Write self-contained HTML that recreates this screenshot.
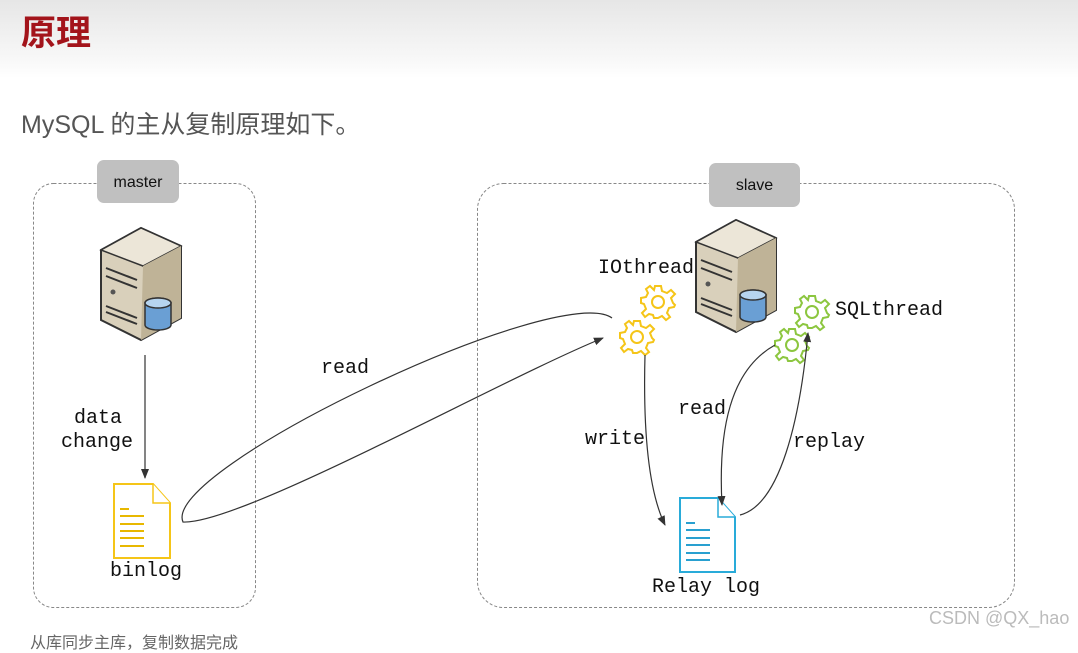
<!DOCTYPE html>
<html><head><meta charset="utf-8"><style>
body{margin:0;width:1078px;height:636px;overflow:hidden;background:#fff;position:relative;font-family:"Liberation Sans","Noto Sans CJK SC",sans-serif}
.hdr{position:absolute;left:0;top:0;width:1078px;height:78px;background:linear-gradient(#e6e6e6,#fafafa 85%,#fff)}
.t{position:absolute;white-space:nowrap}
.m{font-family:"Liberation Mono",monospace;font-size:20px;line-height:24px;color:#111}
.lab{position:absolute;background:#c0c0c0;border-radius:7px;font-size:16px;color:#111;text-align:center}
</style></head><body>
<div class="hdr"></div>
<div class="t" style="left:21px;top:5px;font-size:35px;font-weight:bold;color:#a3141b">原理</div>
<div class="t" style="left:21px;top:105px;font-size:25px;color:#555">MySQL 的主从复制原理如下。</div>
<svg width="1078" height="636" style="position:absolute;left:0;top:0">
<defs><marker id="a" markerWidth="10" markerHeight="10" refX="9" refY="5" orient="auto" markerUnits="userSpaceOnUse"><path d="M0,1 L10,5 L0,9z" fill="#333"/></marker>
<g id="srv"><path d="M0,22 L40,0 L80,18 L80,90 L40,112 L0,92z" fill="#d9d0bb" stroke="#333" stroke-width="2"/><path d="M0,22 L40,0 L80,18 L42,38z" fill="#ece6d8" stroke="#333" stroke-width="1.5"/><path d="M42,38 L80,18 L80,90 L40,112z" fill="#bfb397"/><path d="M5,40 L36,52 M5,48 L36,60 M5,78 L36,90 M5,84 L36,96" stroke="#333" stroke-width="2"/><circle cx="12" cy="64" r="2.5" fill="#555"/><rect x="44" y="70" width="26" height="32" rx="13" ry="5" fill="#6a9fd4" stroke="#333" stroke-width="1.5"/><ellipse cx="57" cy="75" rx="13" ry="5" fill="#b6d4ef" stroke="#333" stroke-width="1.5"/></g>
<g id="gear"><path d="M-3,-16 L3,-16 L4,-11 L9,-9 L13,-12 L17,-8 L13,-4 L15,1 L17,3 L16,5 L11,6 L9,11 L12,15 L8,18 L4,14 L0,16 L-4,16 L-5,13 L-9,12 L-13,15 L-16,11 L-12,7 L-14,2 L-17,1 L-17,-4 L-12,-5 L-10,-9 L-12,-13 L-8,-16 L-4,-12z" fill="#fff" stroke-width="2"/><circle r="6" fill="none" stroke-width="2"/></g>
</defs>
<rect x="33.5" y="183.5" width="222" height="424" rx="20" fill="none" stroke="#888" stroke-dasharray="3,2"/>
<rect x="477.5" y="183.5" width="537" height="424" rx="26" fill="none" stroke="#888" stroke-dasharray="3,2"/>
<use href="#srv" x="101" y="228"/>
<use href="#srv" x="696" y="220"/>
<g stroke="#f5c518"><use href="#gear" x="658" y="302"/><use href="#gear" x="637" y="337"/></g>
<g stroke="#8cc63f"><use href="#gear" x="812" y="312"/><use href="#gear" x="792" y="345"/></g>
<path d="M114,484 L153,484 L170,503 L170,558 L114,558z" fill="#fff" stroke="#f5c518" stroke-width="2"/><path d="M153,484 L153,503 L170,503" fill="#fff" stroke="#f5c518" stroke-width="1.5"/>
<g stroke="#e8b800" stroke-width="2"><path d="M120,509h9M120,516h24M120,524h24M120,531h24M120,538h24M120,546h24"/></g>
<path d="M680,498 L718,498 L735,517 L735,572 L680,572z" fill="#fff" stroke="#29abd9" stroke-width="2"/><path d="M718,498 L718,517 L735,517" fill="#fff" stroke="#29abd9" stroke-width="1.5"/>
<g stroke="#29a0d0" stroke-width="2"><path d="M686,523h9M686,530h24M686,538h24M686,545h24M686,553h24M686,560h24"/></g>
<g fill="none" stroke="#333" stroke-width="1.2">
<path d="M145,355 L145,478" marker-end="url(#a)"/>
<path d="M612,318 C560,280 160,470 183,522 C240,525 500,380 603,338" marker-end="url(#a)"/>
<path d="M645,355 C643,430 648,490 665,525" marker-end="url(#a)"/>
<path d="M775,345 C730,370 718,430 722,505" marker-end="url(#a)"/>
<path d="M740,515 C780,505 800,420 808,333" marker-end="url(#a)"/>
</g>
</svg>
<div class="lab" style="left:97px;top:160px;width:82px;height:43px;line-height:46px">master</div>
<div class="lab" style="left:709px;top:163px;width:91px;height:44px;line-height:46px">slave</div>
<div class="t m" style="left:598px;top:257px">IOthread</div>
<div class="t m" style="left:835px;top:299px">SQLthread</div>
<div class="t m" style="left:321px;top:357px">read</div>
<div class="t m" style="left:74px;top:407px">data</div>
<div class="t m" style="left:61px;top:431px">change</div>
<div class="t m" style="left:585px;top:428px">write</div>
<div class="t m" style="left:678px;top:398px">read</div>
<div class="t m" style="left:793px;top:431px">replay</div>
<div class="t m" style="left:110px;top:560px">binlog</div>
<div class="t m" style="left:652px;top:576px">Relay log</div>
<div class="t" style="left:929px;top:608px;font-size:18px;color:#bbb">CSDN @QX_hao</div>
<div class="t" style="left:30px;top:629px;font-size:16px;color:#666">从库同步主库，复制数据完成</div>
</body></html>
